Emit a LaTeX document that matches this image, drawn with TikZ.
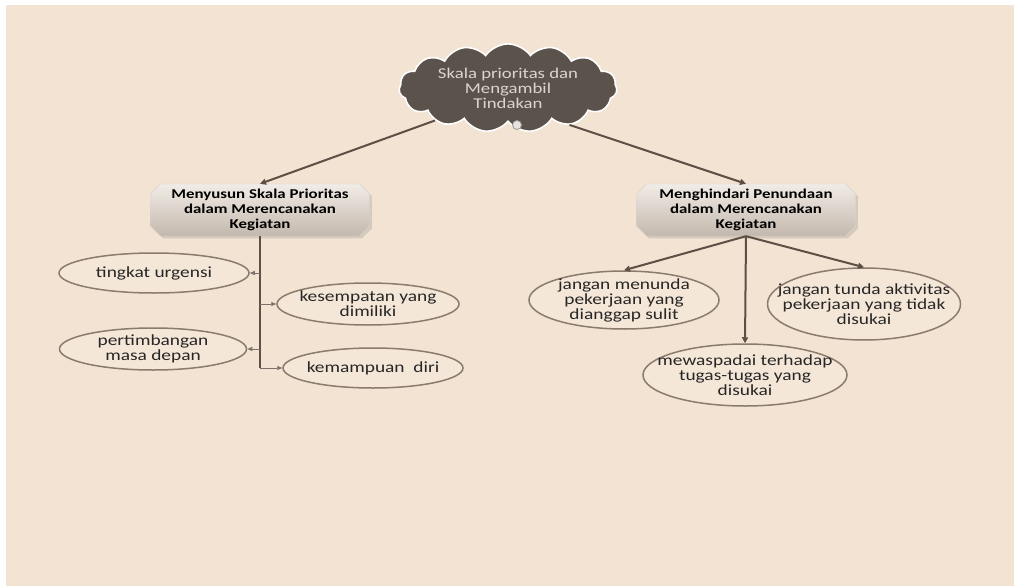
\documentclass[tikz,border=0pt]{standalone}
\usepackage{fontspec}
\setmainfont{Carlito}[FakeStretch=1.25]
\usepackage{xcolor}
\usetikzlibrary{arrows.meta,positioning,shapes.geometric,shapes.symbols,shapes.misc,shadows}

\definecolor{bgbeige}{HTML}{F3E3D2}
\definecolor{clouddark}{HTML}{5B524C}
\definecolor{cloudtext}{HTML}{DDD5CD}
\definecolor{arrowdark}{HTML}{5C4F46}
\definecolor{ovalline}{HTML}{8A7B6D}
\definecolor{ovalfill}{HTML}{F5E7D8}
\definecolor{boxtop}{HTML}{F2ECE6}
\definecolor{boxbot}{HTML}{C3B8AD}

\begin{document}
\begin{tikzpicture}[x=1pt,y=-1pt,
  cloudbox/.style={cloud, cloud puffs=15, cloud puff arc=110, aspect=2.9,
               minimum width=218pt, minimum height=76pt, inner sep=0pt,
               fill=clouddark, draw=white, line width=1.6pt, text=cloudtext,
               font=\fontsize{15}{15}\selectfont, align=center},
  topicbox/.style={chamfered rectangle, chamfered rectangle xsep=5pt,
               chamfered rectangle ysep=5pt, draw=boxbot!80!black!40,
               top color=boxtop, bottom color=boxbot, minimum width=219pt,
               minimum height=52pt, inner sep=0pt, align=center,
               font=\bfseries\fontsize{13.5}{15}\selectfont,
               drop shadow={opacity=0.25}},
  idea/.style={ellipse, draw=ovalline, line width=1.5pt, fill=ovalfill,
               inner xsep=-40pt, inner ysep=-15pt, align=center, text=black!85,
               font=\fontsize{15.5}{15}\selectfont},
  arr/.style={-{Triangle[length=6pt,width=6pt]}, line width=2pt, arrowdark},
  trunk/.style={line width=2.6pt, arrowdark},
  branch/.style={-{Triangle[length=5pt,width=4pt]}, line width=0.9pt, arrowdark!80},
]
\useasboundingbox (0,0) rectangle (1014,586);
\fill[bgbeige] (6,5) rectangle (1014,586);

% central idea
\node[cloudbox] (cloud) at (508,88) {Skala prioritas dan\\Mengambil\\Tindakan};
\node[circle, fill=white!85!clouddark, draw=clouddark!60, line width=0.8pt,
      minimum size=9pt, inner sep=0pt] (bubble) at (517,125) {};

% two topics
\node[topicbox] (msp) at (260,210) {Menyusun Skala Prioritas\\dalam Merencanakan\\Kegiatan};
\node[topicbox] (mhp) at (746,210) {Menghindari Penundaan\\dalam Merencanakan\\Kegiatan};

% ideas on the left
\node[idea, minimum width=190pt, minimum height=40pt] (tu) at (154,273) {tingkat urgensi};
\node[idea, minimum width=182pt, minimum height=42pt] (ky) at (368,304) {kesempatan yang\\dimiliki};
\node[idea, minimum width=187pt, minimum height=42pt] (pm) at (153,349) {pertimbangan\\masa depan};
\node[idea, minimum width=180pt, minimum height=40pt] (kd) at (373,368) {kemampuan\ \ diri};

% ideas on the right
\node[idea, minimum width=190pt, minimum height=58pt] (jm) at (624,300) {jangan menunda\\pekerjaan yang\\dianggap sulit};
\node[idea, minimum width=193pt, minimum height=72pt] (jt) at (864,304) {jangan tunda aktivitas\\pekerjaan yang tidak\\disukai};
\node[idea, minimum width=204pt, minimum height=62pt] (mw) at (745,375) {mewaspadai terhadap\\tugas-tugas yang\\disukai};

% from the cloud
\draw[arr] (cloud.204) -- (msp.north);
\draw[arr] (cloud.-31) -- (mhp.north);

% left trunk and branches
\coordinate (tbot) at (msp.south |- kd.west);
\draw[trunk] (msp.south) -- (tbot);
\draw[branch] (msp.south |- tu.east) -- (tu.east);
\draw[branch] (msp.south |- ky.west) -- (ky.west);
\draw[branch] (msp.south |- pm.east) -- (pm.east);
\draw[branch] (tbot) -- (kd.west);

% right fan
\draw[arr] (mhp.south) -- (jm.north);
\draw[arr] (mhp.south) -- (mw.north);
\draw[arr] (mhp.south) -- (jt.north);

\end{tikzpicture}
\end{document}
